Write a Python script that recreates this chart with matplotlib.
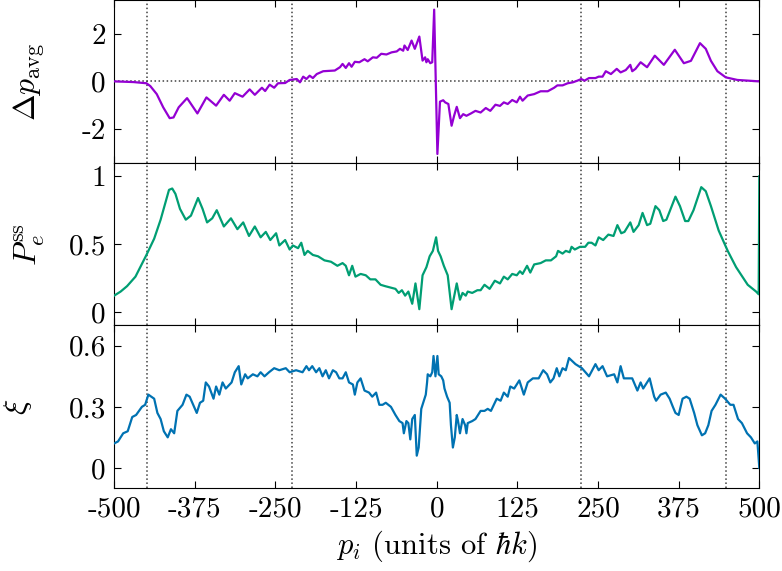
import matplotlib
matplotlib.use('Agg')
import matplotlib.pyplot as plt

plt.rcParams['font.family'] = 'serif'
plt.rcParams['font.serif'] = ['cmr10']
plt.rcParams['mathtext.fontset'] = 'cm'
plt.rcParams['axes.formatter.use_mathtext'] = True

# top panel: Delta p_avg
dp_x = [-500, -470, -450, -444, -434, -424, -414, -408, -400, -387, -371, -357, -342, -330,
        -321, -313, -301, -290, -282, -271, -266, -259, -252, -246, -235, -228, -217, -212,
        -207, -202, -197, -192, -186, -176, -158, -150, -146, -141, -136, -132, -127, -120,
        -112, -107, -99, -93, -86, -78, -70, -62, -57, -52, -50, -45, -39, -34, -27, -22,
        -18, -16, -14, -10, -7, -4, 1, 5, 10, 13, 18, 23, 27, 31, 36, 41, 46, 53, 60, 68,
        76, 83, 91, 98, 104, 110, 117, 124, 129, 133, 141, 151, 161, 172, 182, 187, 195,
        203, 211, 218, 224, 229, 236, 246, 251, 257, 262, 270, 279, 285, 293, 300, 303,
        308, 316, 326, 338, 352, 369, 383, 394, 408, 417, 425, 435, 448, 466, 500]
dp_y = [0.0, -0.03, -0.08, -0.2, -0.54, -1.1, -1.56, -1.53, -1.1, -0.71, -1.36, -0.68, -1.03, -0.57,
        -0.82, -0.5, -0.65, -0.34, -0.57, -0.27, -0.41, -0.14, -0.27, -0.08, -0.07, 0.06, 0.1, -0.04,
        0.2, 0.1, 0.24, 0.14, 0.31, 0.43, 0.46, 0.6, 0.74, 0.57, 0.77, 0.62, 0.83, 0.81,
        0.94, 0.85, 1.02, 1.0, 1.17, 1.14, 1.23, 1.27, 1.38, 1.3, 1.52, 1.33, 1.73, 1.38, 1.9, 0.88,
        1.02, 0.81, 0.94, 0.77, 0.81, 3.04, -3.08, -0.86, -0.8, -0.89, -0.96, -1.88, -1.45, -1.08, -1.56, -1.39, -1.46, -1.36, -1.25, -1.32,
        -1.13, -1.25, -0.99, -1.04, -0.89, -0.96, -0.79, -0.89, -0.65, -0.82, -0.6, -0.54, -0.42, -0.42, -0.27, -0.17, -0.17,
        -0.08, -0.04, 0.03, 0.1, 0.03, 0.14, 0.14, 0.2, 0.2, 0.43, 0.31, 0.53, 0.38, 0.48, 0.7, 0.43,
        0.53, 0.81, 0.6, 1.09, 0.7, 1.34, 0.77, 0.87, 1.62, 1.38, 0.87, 0.43, 0.17, 0.06, 0.0]

# middle panel: P_e^ss
pe_x = [-500, -490, -480, -467, -450, -438, -428, -415, -410, -405, -398, -389, -381, -370,
        -363, -356, -348, -341, -330, -319, -309, -300, -291, -282, -273, -265, -258, -249,
        -244, -235, -228, -223, -215, -210, -205, -200, -192, -184, -174, -164, -154, -146,
        -141, -136, -131, -126, -118, -110, -103, -95, -87, -80, -72, -64, -59, -54, -49,
        -44, -38, -33, -27, -22, -16, -11, -6, -1, 2, 6, 11, 17, 23, 28, 31, 36, 40, 45, 48,
        55, 63, 68, 74, 82, 90, 98, 104, 110, 117, 124, 129, 133, 140, 145, 151, 161, 169,
        177, 185, 188, 195, 200, 206, 209, 214, 222, 230, 235, 240, 246, 251, 258, 266, 274,
        280, 286, 291, 300, 305, 313, 319, 326, 331, 339, 345, 351, 356, 370, 377, 385, 390,
        398, 410, 417, 425, 437, 451, 464, 482, 495, 499, 500]
pe_y = [0.12, 0.15, 0.19, 0.26, 0.42, 0.54, 0.68, 0.9, 0.91, 0.87, 0.76, 0.68, 0.71, 0.84,
        0.76, 0.66, 0.69, 0.75, 0.63, 0.69, 0.61, 0.66, 0.56, 0.63, 0.55, 0.59, 0.53, 0.58,
        0.49, 0.53, 0.46, 0.49, 0.47, 0.51, 0.42, 0.45, 0.42, 0.41, 0.38, 0.37, 0.34, 0.36,
        0.34, 0.27, 0.34, 0.26, 0.28, 0.27, 0.24, 0.24, 0.2, 0.19, 0.18, 0.17, 0.14, 0.16, 0.12,
        0.15, 0.06, 0.21, 0.02, 0.27, 0.33, 0.41, 0.45, 0.55, 0.45, 0.41, 0.34, 0.27, 0.02, 0.14, 0.21, 0.09, 0.14, 0.12, 0.15,
        0.14, 0.16, 0.16, 0.2, 0.17, 0.23, 0.21, 0.26, 0.24, 0.28, 0.27, 0.3, 0.28, 0.34, 0.29, 0.35, 0.36, 0.38,
        0.38, 0.41, 0.45, 0.43, 0.45, 0.44, 0.48, 0.46, 0.48, 0.48, 0.51, 0.51, 0.49, 0.55, 0.53, 0.57, 0.56,
        0.64, 0.58, 0.59, 0.66, 0.59, 0.64, 0.73, 0.64, 0.65, 0.78, 0.75, 0.67, 0.68, 0.85, 0.78, 0.67, 0.67,
        0.75, 0.92, 0.89, 0.78, 0.6, 0.45, 0.33, 0.2, 0.15, 0.13, 1.0]

# bottom panel: xi
xi_x = [-500, -494, -486, -479, -472, -466, -457, -452, -447, -438, -433, -428, -423, -417,
        -412, -407, -402, -394, -388, -383, -372, -367, -362, -358, -353, -346, -342, -337,
        -332, -327, -318, -313, -307, -303, -297, -293, -285, -278, -273, -267, -260, -252,
        -244, -234, -228, -218, -208, -202, -198, -193, -187, -182, -177, -172, -167, -161,
        -156, -151, -146, -141, -136, -130, -127, -123, -118, -112, -105, -100, -94, -89,
        -84, -79, -71, -64, -58, -53, -51, -47, -44, -41, -38, -34, -31, -28, -24, -20, -17,
        -15, -14, -10, -7, -5, -2, 1, 3, 7, 10, 12, 16, 20, 22, 25, 28, 31, 33, 36, 40, 44,
        46, 48, 55, 60, 68, 74, 79, 84, 93, 99, 104, 110, 114, 120, 128, 135, 141, 149, 158,
        165, 171, 176, 181, 186, 190, 195, 200, 205, 215, 225, 236, 246, 251, 257, 264, 275,
        280, 285, 290, 303, 311, 316, 320, 330, 337, 340, 347, 355, 361, 366, 370, 375, 381,
        387, 392, 399, 404, 411, 416, 421, 426, 432, 440, 447, 455, 460, 467, 473, 481, 487,
        493, 497, 500]
xi_y = [0.12, 0.13, 0.17, 0.18, 0.25, 0.26, 0.3, 0.31, 0.36, 0.34, 0.27, 0.24, 0.18, 0.15,
        0.19, 0.17, 0.28, 0.31, 0.36, 0.35, 0.27, 0.32, 0.33, 0.42, 0.4, 0.34, 0.4, 0.36,
        0.42, 0.39, 0.42, 0.47, 0.5, 0.41, 0.46, 0.44, 0.46, 0.45, 0.47, 0.45, 0.47, 0.49,
        0.48, 0.49, 0.47, 0.48, 0.47, 0.5, 0.48, 0.5, 0.47, 0.49, 0.45, 0.48, 0.44, 0.48,
        0.47, 0.44, 0.44, 0.47, 0.42, 0.41, 0.36, 0.42, 0.44, 0.38, 0.37, 0.35, 0.37, 0.31,
        0.31, 0.32, 0.3, 0.26, 0.23, 0.22, 0.17, 0.23, 0.22, 0.14, 0.24, 0.26, 0.06, 0.1, 0.29, 0.33, 0.36,
        0.42, 0.46, 0.45, 0.47, 0.55, 0.45, 0.55, 0.46, 0.45, 0.43, 0.39, 0.35, 0.32, 0.21, 0.1, 0.15, 0.26, 0.23, 0.17, 0.24, 0.21,
        0.17, 0.22, 0.23, 0.24, 0.28, 0.28, 0.29, 0.28, 0.34, 0.33, 0.37, 0.35, 0.4, 0.39, 0.43, 0.36, 0.42, 0.44, 0.44,
        0.48, 0.46, 0.42, 0.44, 0.49, 0.45, 0.49, 0.48, 0.54, 0.51, 0.49, 0.45, 0.51, 0.48, 0.5, 0.45, 0.46,
        0.42, 0.5, 0.44, 0.44, 0.38, 0.42, 0.39, 0.44, 0.35, 0.33, 0.36, 0.37, 0.34, 0.3, 0.27, 0.26, 0.34,
        0.35, 0.34, 0.27, 0.21, 0.16, 0.17, 0.21, 0.28, 0.31, 0.36, 0.34, 0.31, 0.31, 0.24, 0.22, 0.17, 0.15,
        0.12, 0.13, 0.0]

x_ticks = [-500, -375, -250, -125, 0, 125, 250, 375, 500]
x_labels = ['-500', '-375', '-250', '-125', '0', '125', '250', '375', '500']
v_lines = [-449, -224, 224, 449]

fig = plt.figure(figsize=(7.82, 5.71), dpi=100)
gs = fig.add_gridspec(3, 1, left=0.146, right=0.971, top=1.0, bottom=0.145, hspace=0)
axes = [fig.add_subplot(gs[i]) for i in range(3)]

panels = [
    (dp_x, dp_y, '#9400D3', r'$\Delta p_{\rm avg}$', (-3.45, 3.45), [-2, 0, 2], ['-2', '0', '2'], -0.104),
    (pe_x, pe_y, '#009E73', r'$P_e^{\rm ss}$', (-0.1, 1.1), [0, 0.5, 1], ['0', '0.5', '1'], -0.104),
    (xi_x, xi_y, '#0072B2', r'$\xi$', (-0.1, 0.7), [0, 0.3, 0.6], ['0', '0.3', '0.6'], -0.125),
]

for ax, (xs, ys, col, lab, yl, yt, ytl, lx) in zip(axes, panels):
    for v in v_lines:
        ax.axvline(v, color='0.25', linestyle=':', lw=1.1, zorder=1)
    ax.plot(xs, ys, color=col, lw=1.6, zorder=3)
    ax.set_xlim(-500, 500)
    ax.set_ylim(*yl)
    ax.set_yticks(yt)
    ax.set_yticklabels(ytl)
    ax.set_xticks(x_ticks)
    ax.tick_params(direction='in', top=True, right=True, length=5, labelsize=21, pad=6)
    ax.set_ylabel(lab, fontsize=23)
    ax.yaxis.set_label_coords(lx, 0.5)

axes[0].axhline(0, color='0.25', linestyle=':', lw=1.1, zorder=1)
axes[0].tick_params(labelbottom=False)
axes[1].tick_params(labelbottom=False)
axes[2].set_xticklabels(x_labels)
axes[2].set_xlabel(r'$p_i$ (units of $\hbar k$)', fontsize=22)

fig.savefig('out.png', dpi=100)
